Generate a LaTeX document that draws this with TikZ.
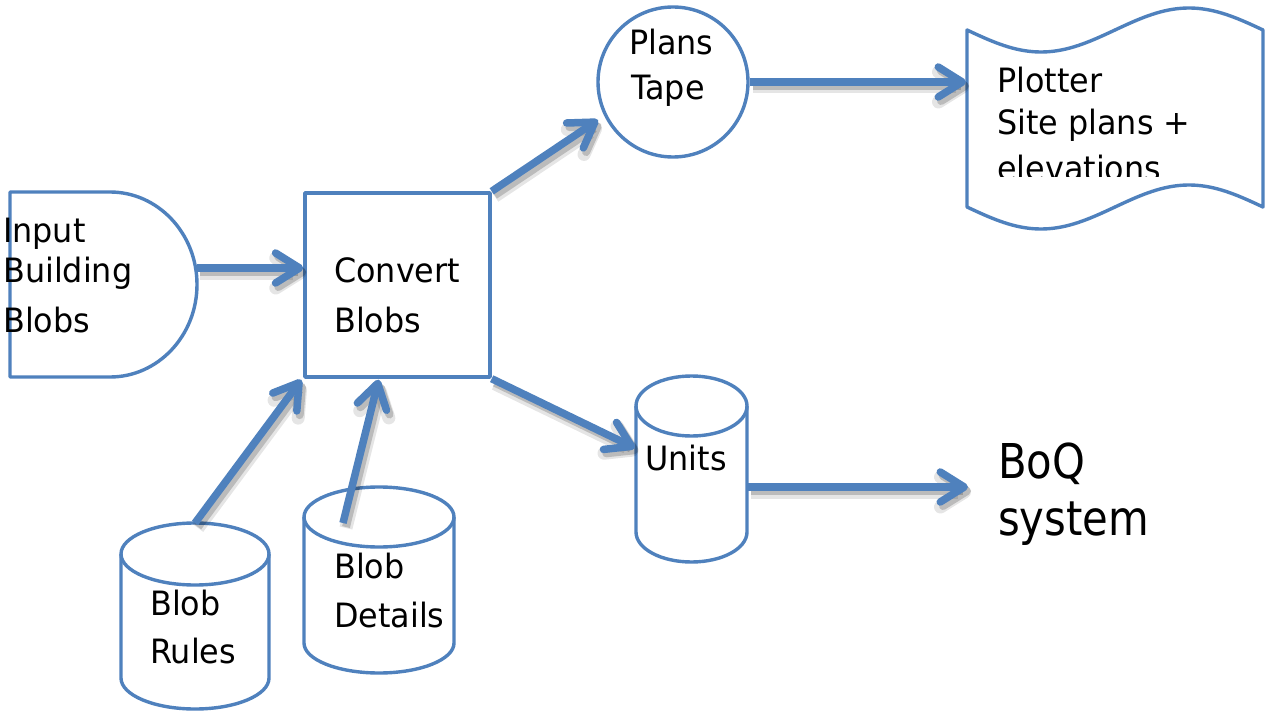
\documentclass[tikz,border=0pt]{standalone}
\usepackage{fontspec}
\setmainfont{DejaVu Sans}[FakeStretch=0.95]
\newfontfamily\narrowsans{DejaVu Sans}[FakeStretch=0.87]
\usetikzlibrary{arrows.meta,calc}
\definecolor{flowblue}{HTML}{4F81BD}

% cylinder: centre x, x radius, top y, bottom y, cap y radius
\newcommand\cylshape[5]{%
  \filldraw[shapeline] (#1-#2,#3+#5) -- (#1-#2,#4-#5)
    arc[start angle=180,end angle=360,x radius=#2pt,y radius=#5pt]
    -- (#1+#2,#3+#5)
    arc[start angle=0,end angle=180,x radius=#2pt,y radius=#5pt] -- cycle;
  \draw[shapeline,fill=none] (#1+#2,#3+#5)
    arc[start angle=0,end angle=-180,x radius=#2pt,y radius=#5pt];
}

\tikzset{
  shapeline/.style={draw=flowblue, line width=3.4pt, fill=white, line join=round},
  flow/.style={draw=flowblue, line width=7.5pt,
    -{Straight Barb[length=24pt,width=30pt,round]},
    preaction={draw=black, draw opacity=0.10, line width=13pt,
      transform canvas={shift={(3pt,-5pt)}}},
    preaction={draw=black, draw opacity=0.18, line width=8pt,
      transform canvas={shift={(3pt,-4pt)}}}},
  lbl/.style={anchor=base west, inner sep=0pt, text=black,
    font=\fontsize{33.5}{40}\selectfont},
  biglbl/.style={lbl, font=\narrowsans\fontsize{48}{56}\selectfont}
}

\begin{document}
\begin{tikzpicture}[x=1pt,y=-1pt]
\useasboundingbox[fill=white] (0,0) rectangle (1268,714);

% input (delay) shape
\filldraw[shapeline] (10,192) -- (110,192)
  arc[start angle=90,end angle=-90,x radius=87pt,y radius=92.5pt]
  -- (10,377) -- cycle;

% process box
\node[shapeline, minimum width=185pt, minimum height=184pt, inner sep=0pt]
  (conv) at (397.5,285) {};

% plans tape (circle)
\node[shapeline, circle, minimum size=150pt, inner sep=0pt] (tape) at (673,82) {};

% plotter (punched tape)
\filldraw[shapeline]
  plot[domain=0:360,samples=73,smooth] ({967+0.82222*\x},{30+22*sin(\x)})
  -- plot[domain=360:0,samples=73,smooth] ({967+0.82222*\x},{207+22*sin(\x)})
  -- cycle;

% stores
\cylshape{195}{74}{523}{709}{31}
\cylshape{379}{75}{487}{673}{30}
\cylshape{691.5}{55.5}{376}{562}{30}

% connector end points
\coordinate (inOut) at (197,268);
\coordinate (tapeIn) at (598,120);
\coordinate (unitsIn) at (635,448);
\coordinate (unitsOut) at (748,487);
\coordinate (plotIn) at (966,82);
\coordinate (boqIn) at (968,487);
\coordinate (rulesTop) at (195,523);
\coordinate (detailsTop) at (343,523);

% connectors
\draw[flow] (inOut) -- (conv.west |- inOut);
\draw[flow] (conv.north east) -- (tapeIn);
\draw[flow] (conv.south east) -- (unitsIn);
\draw[flow] (rulesTop) -- ($(conv.south west)+(-2,1)$);
\draw[flow] (detailsTop) -- ($(conv.south west)!0.4!(conv.south east)+(0,1)$);
\draw[flow] (tape.east) -- (plotIn);
\draw[flow] (unitsOut) -- (boqIn);

% labels
\node[lbl] (inA) at (3,242) {Input};
\node[lbl] (inB) at (3,282) {Building};
\node[lbl] (inC) at (3,332) {Blobs};
\node[lbl] (cvA) at (334,282) {Convert};
\node[lbl] (cvB) at (334,332) {Blobs};
\node[lbl] (tpA) at (629,55) {Plans};
\node[lbl] (tpB) at (631,100) {Tape};
\node[lbl] (ptA) at (997,93) {Plotter};
\node[lbl] (ptB) at (997,135) {Site plans +};
\begin{scope}
  \clip (960,140) rectangle (1268,177);
  \node[lbl] (ptC) at (997,181) {elevations};
\end{scope}
\node[lbl] (unA) at (645,470) {Units};
\node[lbl] (ruA) at (150,615) {Blob};
\node[lbl] (ruB) at (150,663) {Rules};
\node[lbl] (dtA) at (334,578) {Blob};
\node[lbl] (dtB) at (334,627) {Details};
\node[biglbl] (bqA) at (998,478) {BoQ};
\node[biglbl] (bqB) at (998,535) {system};
\end{tikzpicture}
\end{document}
